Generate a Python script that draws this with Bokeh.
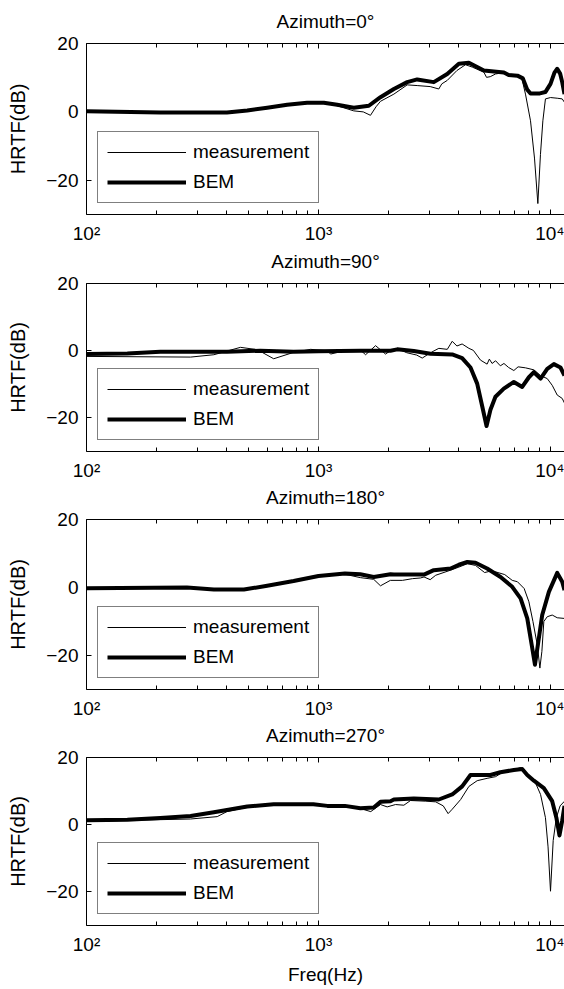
from bokeh.plotting import figure
from bokeh.models import (Range1d, FixedTicker, LinearAxis, Legend, LegendItem,
                          CustomJSTickFormatter)
from bokeh.layouts import column
from bokeh.embed import file_html
from bokeh.resources import INLINE

FONT = "Liberation Sans"

# ---- axes / ticks ----
X_MAJOR = [100, 1000, 10000]
X_TICK_LABELS = ["10²", "10³", "10⁴"]
X_MINOR = [200, 300, 400, 500, 600, 700, 800, 900,
           2000, 3000, 4000, 5000, 6000, 7000, 8000, 9000]
Y_TICKS = [-20, 0, 20]
X_START, X_END = 100, 11490
Y_START, Y_END = -30, 20

TITLES = ["Azimuth=0°", "Azimuth=90°", "Azimuth=180°", "Azimuth=270°"]
LEGEND_LABELS = ["measurement", "BEM"]

# ---- Azimuth = 0 ----
f_bem_0 = [100, 208, 403, 493, 601, 733, 893, 1054, 1204, 1419, 1648, 1850, 2113, 2412,
           2663, 3140, 3588, 4027, 4447, 5163, 5700, 6300, 6600, 7200, 7600, 7940, 8200,
           9000, 9500, 10000, 10400, 10690, 11000, 11230, 11490]
bem_0 = [0.2, -0.2, -0.2, 0.4, 1.2, 2.1, 2.7, 2.7, 2.1, 1.2, 1.8, 4.3, 6.7, 8.7,
         9.5, 8.7, 11.1, 14.1, 14.4, 12.1, 11.8, 11.5, 10.8, 10.6, 9.8, 6.5, 5.4,
         5.4, 5.8, 8.2, 11.5, 12.6, 11.2, 8.7, 5.2]
f_meas_0 = [100, 208, 403, 493, 601, 733, 893, 1054, 1204, 1419, 1560, 1675, 1770, 1850,
            2113, 2412, 2663, 3030, 3300, 3400, 3588, 3950, 4300, 4600, 5163, 5300, 5500,
            5800, 6050, 6950, 7500, 7800, 8200, 8530, 8820, 9050, 9270, 9510, 10000,
            10690, 11230, 11490]
meas_0 = [0.2, -0.2, -0.2, 0.3, 1.0, 2.0, 2.6, 2.7, 1.8, 0.3, 0.0, -1.0, 1.5, 3.1,
          5.2, 7.9, 7.7, 7.4, 6.7, 8.2, 9.2, 12.1, 13.8, 13.1, 11.6, 10.1, 10.3,
          11.1, 11.3, 10.9, 10.2, 5.2, -2.6, -13.5, -26.8, -12.5, -2.6, 3.8, 4.2,
          4.0, 3.8, 2.8]

# ---- Azimuth = 90 ----
f_bem_90 = [100, 150, 208, 403, 561, 781, 1000, 1515, 2043, 2183, 2575, 3040, 3770, 4160,
            4520, 4830, 5080, 5300, 5510, 5790, 6290, 6950, 7550, 8070, 8480, 9060, 9680,
            10340, 11040, 11490]
bem_90 = [-1.0, -0.8, -0.3, -0.3, 0.0, -0.3, -0.2, 0.0, 0.0, 0.4, -0.1, -0.9, -1.1, -2.2,
          -5.0, -9.8, -16.6, -22.4, -17.6, -13.7, -11.3, -9.3, -10.8, -7.9, -6.4, -8.3, -5.4,
          -4.0, -5.0, -7.4]
f_meas_90 = [100, 281, 354, 461, 545, 641, 781, 925, 1092, 1127, 1300, 1515, 1596, 1762,
             1945, 2043, 2183, 2400, 2650, 2800, 3040, 3300, 3590, 3770, 3950, 4160, 4450,
             4650, 4990, 5330, 5450, 5600, 5800, 6080, 6300, 6600, 6950, 7250, 7800, 8480,
             9060, 9680, 10170, 10690, 11230, 11490]
meas_90 = [-1.7, -1.9, -1.2, 1.0, 0.3, -2.4, -0.5, 0.4, 0.0, -1.0, 0.0, 0.2, -1.2, 1.5,
           -1.0, 0.0, 0.7, -0.6, -1.3, -2.2, -0.6, 0.7, 0.4, 2.8, 1.4, 2.0, 0.7,
           0.1, -2.8, -4.0, -2.5, -3.8, -3.0, -4.5, -3.8, -5.0, -5.9, -4.8, -5.1, -5.7,
           -7.4, -8.3, -10.3, -13.2, -14.2, -15.6]

# ---- Azimuth = 180 ----
f_bem_180 = [100, 271, 354, 477, 601, 781, 1000, 1300, 1515, 1730, 2043, 2113, 2850, 3140,
             3710, 4027, 4380, 4750, 5330, 6090, 6840, 7430, 7940, 8340, 8570, 8820, 9210,
             9840, 10690, 11230, 11490]
bem_180 = [-0.2, 0.0, -0.6, -0.6, 0.5, 1.9, 3.4, 4.1, 3.9, 3.1, 3.9, 3.8, 3.8, 5.1,
           5.6, 6.7, 7.5, 7.3, 5.6, 3.1, 0.2, -3.2, -9.1, -17.8, -22.7, -16.9, -8.1,
           -1.3, 4.3, 1.7, -0.8]
f_meas_180 = [100, 271, 354, 477, 601, 781, 1000, 1300, 1515, 1730, 1850, 2040, 2300, 2540,
              2750, 2850, 3030, 3200, 3710, 4027, 4380, 4750, 5200, 5500, 5800, 6350, 6840,
              7200, 7700, 8070, 8400, 8770, 9000, 9180, 9360, 9680, 10170, 10690, 11490]
meas_180 = [-0.2, 0.0, -0.6, -0.6, 0.4, 1.8, 3.2, 3.9, 2.9, 2.4, 0.5, 2.1, 2.1, 2.6,
            2.8, 3.1, 2.3, 3.6, 5.1, 6.0, 7.0, 6.5, 4.4, 4.8, 4.6, 3.8, 2.1,
            1.7, -0.3, -4.2, -10.0, -16.9, -23.7, -18.8, -10.0, -8.6, -8.1, -8.9, -9.1]

# ---- Azimuth = 270 ----
f_bem_270 = [100, 150, 208, 281, 354, 403, 493, 641, 781, 950, 1092, 1300, 1515, 1730, 1850,
             2043, 2113, 2575, 3300, 3770, 4160, 4520, 5510, 6080, 6950, 7550, 7940, 8480,
             9360, 10170, 10600, 10930, 11230, 11490]
bem_270 = [1.3, 1.5, 2.0, 2.6, 3.7, 4.4, 5.4, 6.1, 6.1, 6.1, 5.6, 5.6, 4.9, 5.1, 6.8,
           7.0, 7.5, 7.8, 7.5, 9.0, 11.4, 14.8, 14.8, 15.6, 16.3, 16.6, 14.8, 13.1,
           10.9, 7.0, 2.1, -3.2, 1.2, 5.6]
f_meas_270 = [100, 208, 281, 366, 403, 493, 641, 781, 950, 1092, 1300, 1515, 1680, 1850,
              1977, 2148, 2333, 2493, 2900, 3200, 3450, 3620, 3770, 4100, 4450, 4830, 5330,
              5800, 6290, 6950, 7430, 7940, 8560, 9060, 9510, 9760, 10000, 10270, 10600,
              11000, 11490]
meas_270 = [1.0, 1.5, 1.7, 2.4, 3.9, 5.2, 6.0, 6.0, 6.0, 5.5, 5.4, 4.8, 3.9, 6.0,
            5.3, 6.0, 5.8, 7.2, 7.0, 6.8, 5.6, 3.3, 4.6, 7.5, 11.4, 13.1, 13.8,
            14.3, 15.8, 16.3, 17.0, 14.8, 12.9, 9.0, 2.1, -6.6, -19.8, -4.7, 2.1,
            5.6, 7.0]

DATA = [
    (f_meas_0, meas_0, f_bem_0, bem_0),
    (f_meas_90, meas_90, f_bem_90, bem_90),
    (f_meas_180, meas_180, f_bem_180, bem_180),
    (f_meas_270, meas_270, f_bem_270, bem_270),
]

# layout: (figure height, border top, border bottom)
GEOM = [(247, 43, 33), (236, 35, 30), (238, 35, 32), (266, 35, 60)]


def style_x_ticks(ax):
    ax.ticker = FixedTicker(ticks=X_MAJOR, minor_ticks=X_MINOR)
    ax.axis_line_color = "black"
    ax.axis_line_width = 1
    ax.major_tick_in = 5
    ax.major_tick_out = 0
    ax.minor_tick_in = 4
    ax.minor_tick_out = 0
    ax.major_tick_line_color = "black"
    ax.minor_tick_line_color = "black"


def make_panel(i):
    fm, m, fb, b = DATA[i]
    h, bt, bb = GEOM[i]
    p = figure(width=564, height=h, x_axis_type="log",
               x_range=Range1d(X_START, X_END), y_range=Range1d(Y_START, Y_END),
               output_backend="svg", toolbar_location=None,
               min_border_left=86, min_border_right=0,
               min_border_top=bt, min_border_bottom=bb,
               outline_line_color=None,
               background_fill_color="white", border_fill_color="white")
    p.grid.visible = False

    xa = p.xaxis[0]
    style_x_ticks(xa)
    xa.major_label_overrides = dict(zip(X_MAJOR, X_TICK_LABELS))
    xa.major_label_text_font = FONT
    xa.major_label_text_font_size = "19px"
    xa.major_label_text_color = "black"
    xa.major_label_standoff = 8

    # top frame edge with ticks; its axis label carries the panel title
    top = LinearAxis(formatter=CustomJSTickFormatter(code="return ''"))
    style_x_ticks(top)
    top.major_label_text_font_size = "1px"
    top.major_label_standoff = 0
    top.axis_label = TITLES[i]
    top.axis_label_text_font = FONT
    top.axis_label_text_font_size = "19px"
    top.axis_label_text_font_style = "normal"
    top.axis_label_text_color = "black"
    top.axis_label_standoff = 12
    p.add_layout(top, "above")

    ya = p.yaxis[0]
    ya.ticker = FixedTicker(ticks=Y_TICKS, minor_ticks=[])
    ya.axis_line_color = "black"
    ya.major_tick_in = 5
    ya.major_tick_out = 0
    ya.minor_tick_in = 0
    ya.minor_tick_out = 0
    ya.major_label_text_font = FONT
    ya.major_label_text_font_size = "19px"
    ya.major_label_text_color = "black"
    ya.major_label_standoff = 8
    ya.axis_label = "HRTF(dB)"
    ya.axis_label_text_font = FONT
    ya.axis_label_text_font_size = "20px"
    ya.axis_label_text_font_style = "normal"
    ya.axis_label_text_color = "black"
    ya.axis_label_standoff = 14

    if i == 3:
        xa.axis_label = "Freq(Hz)"
        xa.axis_label_text_font = FONT
        xa.axis_label_text_font_size = "19px"
        xa.axis_label_text_font_style = "normal"
        xa.axis_label_text_color = "black"
        xa.axis_label_standoff = 6

    r1 = p.line(fm, m, line_color="black", line_width=1)
    r2 = p.line(fb, b, line_color="black", line_width=4, line_join="round")

    legend = Legend(items=[LegendItem(label=LEGEND_LABELS[0], renderers=[r1]),
                           LegendItem(label=LEGEND_LABELS[1], renderers=[r2])],
                    location="bottom_left", margin=11, padding=9, spacing=8,
                    glyph_width=79, glyph_height=22, label_height=22,
                    label_width=115, label_standoff=7,
                    label_text_font=FONT, label_text_font_size="19px",
                    label_text_color="black",
                    border_line_color="black", border_line_width=1,
                    background_fill_color="white", background_fill_alpha=1.0)
    p.add_layout(legend)
    return p


layout = column(*[make_panel(i) for i in range(4)], spacing=0)

with open("out.html", "w") as fh:
    fh.write(file_html(layout, INLINE))
